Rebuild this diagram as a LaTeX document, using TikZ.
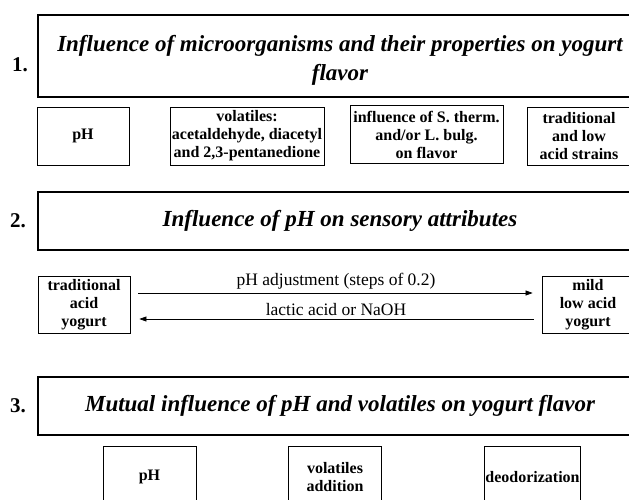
\documentclass[tikz,border=0pt]{standalone}
\usepackage{fontspec}
\setmainfont{Liberation Serif}
\usetikzlibrary{arrows.meta,positioning}

\begin{document}
\begin{tikzpicture}[x=1pt, y=-1pt,
  every node/.style={font=\fontsize{16}{18}\selectfont\bfseries, align=center},
  topic/.style={draw, line width=1.6pt, minimum width=604pt, inner sep=0pt, font=\fontsize{23}{29}\selectfont\bfseries\itshape},
  num/.style={font=\fontsize{21}{22}\selectfont\bfseries, inner sep=0pt},
  factor/.style={draw, line width=0.8pt, minimum width=93pt, minimum height=58pt, inner sep=1pt},
  adjust/.style={font=\fontsize{17.5}{19}\selectfont, inner sep=1pt, above=2pt, midway}]
\useasboundingbox (0,0) rectangle (629,500);
\clip (0,0) rectangle (629,500);

% part 1
\node[topic, minimum height=82pt] (topic1) at (340,56) {\rule{0pt}{24pt}Influence of microorganisms and their properties on yogurt\\flavor};
\node[num] (n1) at (20,65) {1.};
\node[factor, minimum width=92pt] (ph1) at (83,136) {pH};
\node[factor, minimum width=154pt] (volat1) at (247,136) {volatiles:\\acetaldehyde, diacetyl\\and 2,3-pentanedione};
\node[factor, minimum width=153pt] (therm1) at (426.5,134.5) {influence of S. therm.\\and/or L. bulg.\\on flavor};
\node[factor, minimum width=104pt] (strain1) at (579,136.5) {traditional\\and low\\acid strains};

% part 2
\node[topic, minimum height=58pt] (topic2) at (340,221) {Influence of pH on sensory attributes};
\node[num] (n2) at (18,221) {2.};
\node[factor, minimum width=92pt, minimum height=57pt] (tradacid) at (84,304.5) {traditional\\acid\\yogurt};
\node[factor, minimum width=92pt, minimum height=57pt] (mildacid) at (588,304.5) {mild\\low acid\\yogurt};

\draw[-{Triangle[length=7pt,width=5pt]}, line width=0.6pt, shorten <=8pt, shorten >=9pt]
  ([yshift=11.5pt]tradacid.east) -- node[adjust] {pH adjustment (steps of 0.2)} ([yshift=11.5pt]mildacid.west);
\draw[-{Triangle[length=7pt,width=5pt]}, line width=0.6pt, shorten <=8pt, shorten >=9pt]
  ([yshift=-14.5pt]mildacid.west) -- node[adjust] {lactic acid or NaOH} ([yshift=-14.5pt]tradacid.east);

% part 3
\node[topic, minimum height=58pt] (topic3) at (340,406) {Mutual influence of pH and volatiles on yogurt flavor};
\node[num] (n3) at (18,406) {3.};
\node[factor, minimum height=62pt] (ph3) at (149.5,477) {pH};
\node[factor, minimum height=62pt] (volad3) at (335,477) {volatiles\\addition};
\node[factor, minimum height=62pt] (deodor3) at (532.5,477) {deodorization};
\end{tikzpicture}
\end{document}
